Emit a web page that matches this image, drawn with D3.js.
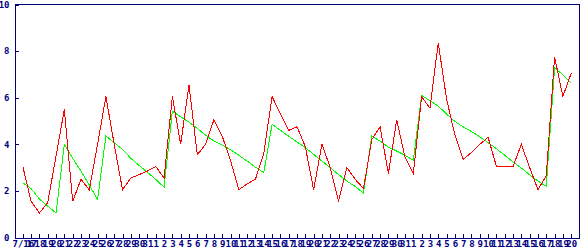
<!DOCTYPE html>
<html>
<head>
<meta charset="utf-8">
<script src="https://cdn.jsdelivr.net/npm/d3@7"></script>
<style>
  html, body { margin: 0; padding: 0; background: #fff; }
  svg { display: block; }
  .axis text { font-family: "DejaVu Sans Mono", monospace; font-size: 9px; font-weight: bold; fill: #000080; }
  .axis path, .axis line { stroke: #000080; shape-rendering: crispEdges; }
</style>
</head>
<body>
<svg id="chart" width="580" height="250"></svg>
<script>
const dateLabels = ["7/16","17","18","19","20","21","22","23","24","25","26","27","28","29","30","31",
  "1","2","3","4","5","6","7","8","9","10","11","12","13","14","15","16","17","18","19","20","21","22","23","24","25","26","27","28","29","30","31",
  "1","2","3","4","5","6","7","8","9","10","11","12","13","14","15","16","17","18","19","20"];

const redSeries = [3.05,1.55,1.05,1.5,3.5,5.5,1.55,2.5,2.05,4.0,6.05,4.0,2.05,2.55,2.7,2.85,3.05,2.55,
  6.05,4.0,6.55,3.55,4.0,5.05,4.35,3.3,2.05,2.3,2.5,3.6,6.05,5.3,4.6,4.75,3.9,2.05,4.0,3.0,1.55,3.0,
  2.5,2.1,4.2,4.75,2.75,5.05,3.45,2.75,6.05,5.55,8.35,5.95,4.4,3.35,3.65,4.0,4.3,3.05,3.05,3.05,4.0,
  3.0,2.05,2.65,7.75,6.05,7.05];

const greenSeries = [2.35,2.1,1.65,1.35,1.05,4.0,3.4,2.85,2.25,1.63,4.36,4.07,3.78,3.4,3.09,2.8,2.49,2.16,
  5.42,5.18,4.95,4.68,4.39,4.14,3.96,3.77,3.53,3.28,3.02,2.78,4.86,4.6,4.35,4.1,3.86,3.57,3.28,3.0,2.7,
  2.42,2.19,1.91,4.35,4.14,3.88,3.71,3.53,3.31,6.1,5.87,5.64,5.3,4.98,4.75,4.55,4.32,4.07,3.81,3.53,
  3.24,2.98,2.69,2.42,2.2,7.27,6.99,6.62];

const yTicks = [0, 2, 4, 6, 8, 10];

const svg = d3.select("#chart");
const mLeft = 14.5, mRight = 579.5, mTop = 4.5, mBottom = 237.5;

const x = d3.scaleLinear().domain([-1, 67]).range([mLeft, mRight]);
const y = d3.scaleLinear().domain([0, 10]).range([mBottom, mTop]);

// frame (top and right)
svg.append("path")
  .attr("d", `M${mLeft},${mTop}H${mRight}V${mBottom}`)
  .attr("fill", "none").attr("stroke", "#000080")
  .attr("shape-rendering", "crispEdges");

svg.append("g").attr("class", "axis")
  .attr("transform", `translate(${mLeft},0)`)
  .call(d3.axisLeft(y).tickValues(yTicks).tickSize(-4).tickSizeOuter(0).tickPadding(5).tickFormat(d3.format("d")));

svg.append("g").attr("class", "axis")
  .attr("transform", `translate(0,${mBottom})`)
  .call(d3.axisBottom(x).tickValues(d3.range(dateLabels.length)).tickSize(-4).tickSizeOuter(0).tickPadding(3.6)
    .tickFormat(i => dateLabels[i]));

const line = d3.line().x((d, i) => x(i)).y(d => y(d));

svg.append("path").datum(greenSeries)
  .attr("d", line).attr("fill", "none").attr("stroke", "#00ff00").attr("stroke-width", 1)
  .attr("shape-rendering", "crispEdges");

svg.append("path").datum(redSeries)
  .attr("d", line).attr("fill", "none").attr("stroke", "#ff0000").attr("stroke-width", 1)
  .attr("shape-rendering", "crispEdges");
</script>
</body>
</html>
